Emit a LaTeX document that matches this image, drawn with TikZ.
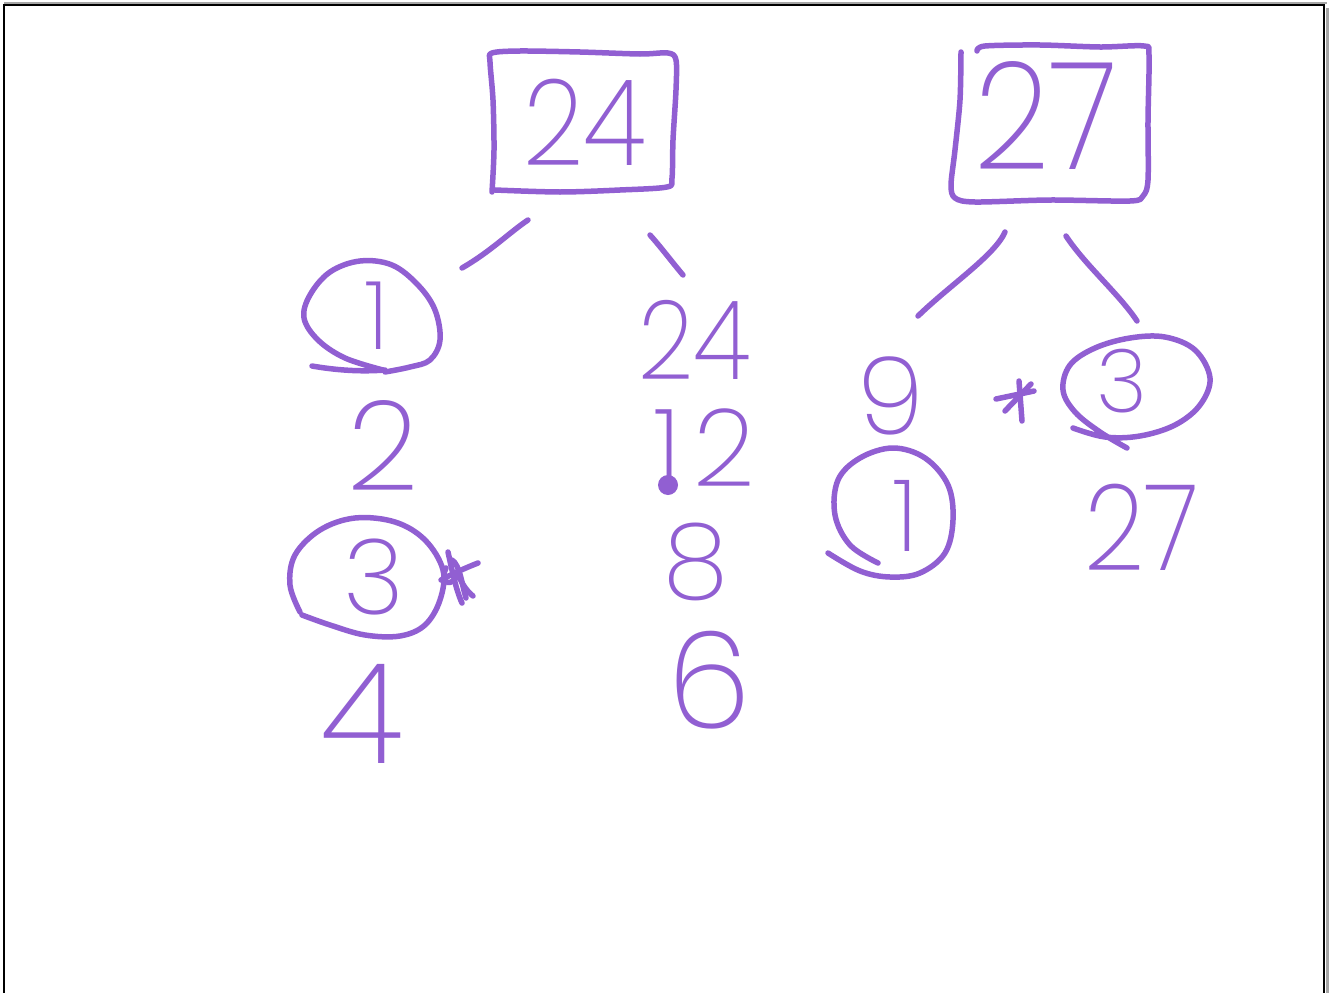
\documentclass[tikz,border=0pt]{standalone}
\usepackage{fontspec}
\usepackage{graphicx}
\IfFontExistsTF{Poppins ExtraLight}
  {\newfontfamily\hand{Poppins ExtraLight}}
  {\IfFontExistsTF{Poppins Light}
     {\newfontfamily\hand{Poppins Light}}
     {\newfontfamily\hand{Liberation Sans}}}
\definecolor{ink}{RGB}{145,95,210}
\tikzset{
  pen/.style={draw=ink, line width=5.5pt, line cap=round, line join=round},
  num/.style={text=ink, inner sep=0pt, anchor=center,
              font=\hand\fontsize{#1}{#1}\selectfont},
  frame/.style={draw=black, line width=2pt}
}
% narrower figures, as written by hand
\newcommand{\narrow}[1]{\scalebox{0.88}[1]{#1}}
\begin{document}
\begin{tikzpicture}[x=1pt,y=-1pt]
\useasboundingbox (0,0) rectangle (1334,993);

% page frame with its shadow on the right
\draw[gray!70, line width=2pt] (4,3) -- (1327,3);
\draw[gray!70, line width=3pt] (1327.5,8) -- (1327.5,993);
\draw[frame] (4,993) -- (4,5) -- (1324,5) -- (1324,993);

% numbers
\node[num=120] (t24) at (585,122) {\narrow{24}};
\node[num=150] (t27) at (1046,115) {\narrow{27}};
\node[num=95]  (a1)  at (377,316) {1};
\node[num=125] (a2)  at (383,445) {2};
\node[num=105] (a3)  at (374,577) {3};
\node[num=140] (a4)  at (362,714) {4};
\node[num=110] (b24) at (695,340) {\narrow{24}};
\node[num=108] (b12) at (704,448) {1\kern12pt2};
\node[num=105] (b8)  at (696,562) {8};
\node[num=135] (b6)  at (709,680) {6};
\node[num=108] (c9)  at (891,396) {9};
\node[num=100] (c1)  at (905,516) {1};
\node[num=88]  (d3)  at (1122,381) {3};
\node[num=120] (d27) at (1142,527) {\narrow{27}};

% box round 24
\draw[pen] plot[smooth, tension=0.5] coordinates {
  (492,192) (494,150) (493,100) (490,62) (492,53) (520,51) (580,52)
  (640,54) (668,53) (676,60) (676,90) (673,140) (672,178) (667,187)
  (620,190) (560,192) (495,190)};

% box round 27
\draw[pen] plot[smooth, tension=0.5] coordinates {
  (977,51) (985,46) (1040,45) (1100,47) (1144,46) (1149,55) (1148,120)
  (1148,180) (1143,196) (1130,201) (1050,200) (975,202) (955,198)
  (951,185) (955,150) (960,100) (961,52)};

% strokes under the boxes
\coordinate (l1a) at (528,220); \coordinate (l1b) at (462,268);
\coordinate (r1a) at (650,235); \coordinate (r1b) at (683,275);
\coordinate (l2a) at (1005,232); \coordinate (l2b) at (918,316);
\coordinate (r2a) at (1066,236); \coordinate (r2b) at (1137,321);
\draw[pen] (l1a) .. controls (510,232) and (490,252) .. (l1b);
\draw[pen] (r1a) .. controls (660,246) and (672,262) .. (r1b);
\draw[pen] (l2a) .. controls (995,255) and (950,285) .. (l2b);
\draw[pen] (r2a) .. controls (1085,265) and (1120,295) .. (r2b);

% rings round the circled numbers
\draw[pen] plot[smooth, tension=0.6] coordinates {
  (383,370) (345,358) (318,340) (304,318) (310,295) (330,272) (360,261)
  (392,265) (418,285) (435,310) (440,340) (430,360) (410,367) (385,372)};
\draw[pen] (312,366) .. controls (335,370) and (360,372) .. (385,370);

\draw[pen] plot[smooth, tension=0.6] coordinates {
  (300,612) (290,585) (295,555) (320,530) (355,518) (395,522) (425,540)
  (443,570) (440,600) (425,625) (400,636) (365,635) (330,625) (302,615)};

\draw[pen] plot[smooth, tension=0.6] coordinates {
  (878,563) (850,545) (835,515) (838,480) (860,458) (893,448) (925,458)
  (948,485) (953,520) (945,553) (920,573) (890,577) (860,571) (828,553)};

\draw[pen] plot[smooth, tension=0.6] coordinates {
  (1127,448) (1100,432) (1075,412) (1063,390) (1070,365) (1095,348)
  (1130,338) (1165,337) (1195,350) (1210,378) (1200,405) (1175,425)
  (1140,436) (1105,437) (1073,428)};

% dot below the 1 of 12
\fill[ink] (668,485) circle (10pt);

% star marks
\draw[pen] (448,552) .. controls (452,570) and (456,590) .. (462,603);
\draw[pen] (441,580) .. controls (450,575) and (465,568) .. (478,563);
\draw[pen] (458,574) .. controls (462,585) and (468,592) .. (473,596);
\draw[pen] (446,568) .. controls (440,580) and (448,588) .. (456,578);
\draw[pen] (452,560) .. controls (460,565) and (462,585) .. (466,598);

\draw[pen] (996,399) -- (1034,391);
\draw[pen] (1019,381) -- (1022,421);
\draw[pen] (1005,411) -- (1031,384);
\end{tikzpicture}
\end{document}
